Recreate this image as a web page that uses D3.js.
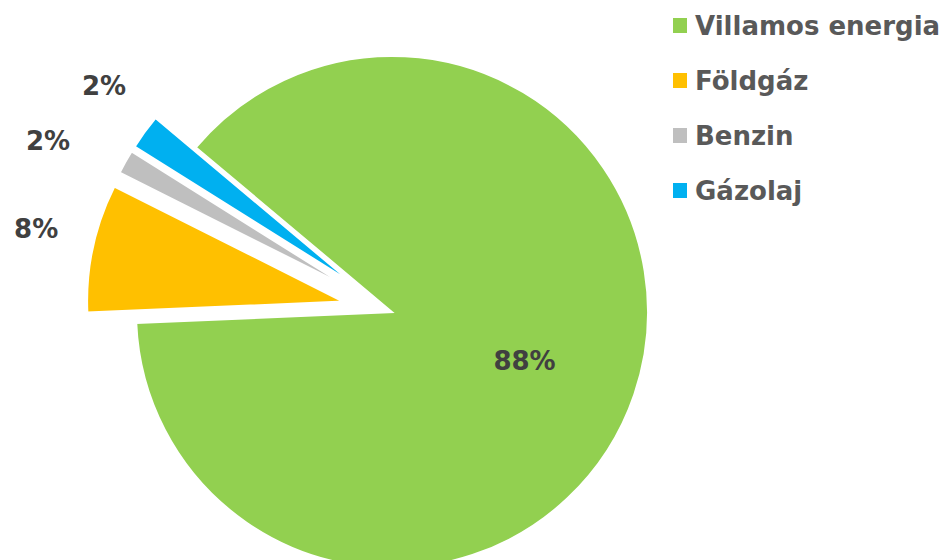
<!DOCTYPE html>
<html>
<head>
<meta charset="utf-8">
<script src="https://cdn.jsdelivr.net/npm/d3@7"></script>
<style>
  body { margin: 0; background: #fff; }
  #chart { width: 948px; height: 560px; overflow: hidden; }
  text { font-family: "DejaVu Sans", Verdana, sans-serif; font-weight: bold; }
</style>
</head>
<body>
<div id="chart"></div>
<script>
// energy sources and their share
var categories = ["Villamos energia", "Földgáz", "Benzin", "Gázolaj"];
var values = [88.2, 8.1, 1.5, 2.2];
var colors = ["#92D050", "#FFC000", "#BFBFBF", "#00B0F0"];

var width = 948, height = 560;
var cx = 392, cy = 312, radius = 256;
var explode = 50;

var svg = d3.select("#chart").append("svg")
    .attr("width", width)
    .attr("height", height);

var data = categories.map(function(c, i) {
  return { name: c, value: values[i], color: colors[i] };
});
var total = d3.sum(values);

var pie = d3.pie()
    .sort(null)
    .value(function(d) { return d.value; })
    .startAngle(-50 * Math.PI / 180)
    .endAngle(310 * Math.PI / 180);

var arc = d3.arc().innerRadius(0).outerRadius(radius);

var arcs = pie(data);

function midAngle(d) { return (d.startAngle + d.endAngle) / 2; }

var g = svg.append("g")
    .attr("transform", "translate(" + cx + "," + cy + ")");

g.selectAll(".slice")
  .data(arcs)
  .enter()
  .append("path")
    .attr("class", "slice")
    .attr("d", arc)
    .attr("fill", function(d) { return d.data.color; })
    .attr("stroke", "#fff")
    .attr("stroke-width", 2)
    .attr("transform", function(d, i) {
      if (i === 0) return null;
      var a = midAngle(d);
      return "translate(" + (explode * Math.sin(a)) + "," + (-explode * Math.cos(a)) + ")";
    });

// data labels (small nudges mimic the original placement)
var nudge = [[0, 4], [2, -7], [-25, 8], [8, -11]];
g.selectAll(".label")
  .data(arcs)
  .enter()
  .append("text")
    .attr("class", "label")
    .attr("x", function(d, i) {
      var r = i === 0 ? 140 : 366;
      return r * Math.sin(midAngle(d)) + nudge[i][0];
    })
    .attr("y", function(d, i) {
      var r = i === 0 ? 140 : 366;
      return -r * Math.cos(midAngle(d)) + nudge[i][1];
    })
    .attr("dy", "0.36em")
    .attr("text-anchor", "middle")
    .attr("fill", "#404040")
    .style("font-size", "26px")
    .text(function(d) { return Math.round(d.data.value / total * 100) + "%"; });

// legend
var legend = svg.append("g")
    .attr("transform", "translate(673,18)");

var rows = legend.selectAll(".row")
  .data(data)
  .enter()
  .append("g")
    .attr("class", "row")
    .attr("transform", function(d, i) { return "translate(0," + (i * 55) + ")"; });

rows.append("rect")
    .attr("width", 14)
    .attr("height", 15)
    .attr("fill", function(d) { return d.color; });

rows.append("text")
    .attr("x", 22)
    .attr("y", 17)
    .attr("fill", "#595959")
    .style("font-size", "26px")
    .text(function(d) { return d.name; });
</script>
</body>
</html>
